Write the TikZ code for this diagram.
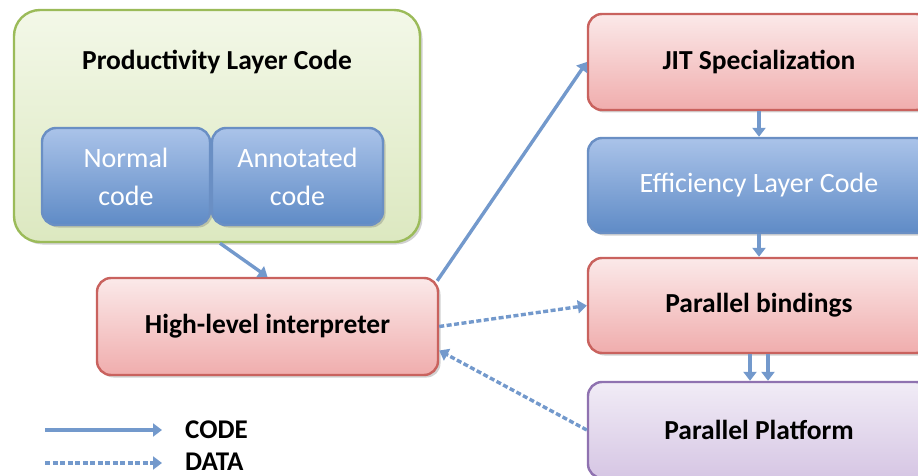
\documentclass[tikz,border=0pt]{standalone}
\usepackage{fontspec}
\setmainfont{Carlito}
\usetikzlibrary{shadows,arrows.meta}

\definecolor{greenline}{HTML}{9BBB59}
\definecolor{greentop}{HTML}{F3F8E8}
\definecolor{greenbot}{HTML}{DCE8C0}
\definecolor{blueline}{HTML}{6A8FC4}
\definecolor{bluetop}{HTML}{AAC3E9}
\definecolor{bluebot}{HTML}{5F8BC6}
\definecolor{redline}{HTML}{C9625E}
\definecolor{redtop}{HTML}{FBE9E9}
\definecolor{redbot}{HTML}{F0ADAD}
\definecolor{purpleline}{HTML}{8F72B0}
\definecolor{purpletop}{HTML}{F1ECF6}
\definecolor{purplebot}{HTML}{D6C6E4}
\definecolor{arrowc}{HTML}{7399CC}

\tikzset{
  boxbase/.style={rounded corners=14pt, line width=2.4pt, inner sep=0pt,
    drop shadow={shadow xshift=2.5pt, shadow yshift=-2.5pt, opacity=0.3, fill=black!60},
    font=\fontsize{28}{38}\selectfont, align=center},
  greenbox/.style={boxbase, rounded corners=26pt, draw=greenline, top color=greentop, bottom color=greenbot},
  bluebox/.style={boxbase, draw=blueline, top color=bluetop, bottom color=bluebot, text=white},
  redbox/.style={boxbase, draw=redline, top color=redtop, bottom color=redbot, font=\fontsize{27.5}{36}\selectfont\bfseries},
  purplebox/.style={boxbase, draw=purpleline, top color=purpletop, bottom color=purplebot, font=\fontsize{27.5}{36}\selectfont\bfseries},
  codearrow/.style={draw=arrowc, line width=3.4pt, -{Triangle[length=9pt,width=13pt]}},
  dataarrow/.style={codearrow, dash pattern=on 5pt off 2.5pt},
  legendtext/.style={font=\fontsize{27}{30}\selectfont\bfseries, anchor=west, inner sep=0pt},
}

\begin{document}
\begin{tikzpicture}[x=1pt, y=-1pt]
\useasboundingbox (0,0) rectangle (918,476);
\begin{scope}
\clip (0,0) rectangle (918,476);

% productivity layer with its two kinds of code
\node[greenbox, minimum width=406pt, minimum height=232pt] (prod) at (217,126) {};
\node[font=\fontsize{27.5}{30}\selectfont\bfseries, inner sep=0pt] (prodtitle) at (217,62) {Productivity Layer Code};
\node[bluebox, minimum width=168pt, minimum height=97pt] (normal) at (126,176.5) {Normal\\code};
\node[bluebox, minimum width=171pt, minimum height=97pt] (annot) at (297.5,176.5) {Annotated\\code};

% interpreter
\node[redbox, minimum width=341pt, minimum height=97pt] (interp) at (267.5,326.5) {High-level interpreter};

% efficiency side
\node[redbox, minimum width=342pt, minimum height=96pt] (jit) at (759,62) {JIT Specialization};
\node[bluebox, minimum width=342pt, minimum height=95pt] (eff) at (759,185.5) {Efficiency Layer Code};
\node[redbox, minimum width=342pt, minimum height=95pt] (bind) at (759,305.5) {Parallel bindings};
\node[purplebox, minimum width=342pt, minimum height=96pt] (plat) at (759,430) {Parallel Platform};

% connectors
\draw[codearrow] ([xshift=3pt]prod.south) -- ([xshift=0pt]interp.north);
\draw[codearrow] ([xshift=-2pt,yshift=-4pt]interp.north east) -- ([yshift=0pt]jit.west);
\draw[dataarrow] (interp.east) -- (bind.west);
\draw[dataarrow] (plat.west) -- ([yshift=-24pt]interp.east);
\draw[codearrow] (jit.south) -- (eff.north);
\draw[codearrow] (eff.south) -- (bind.north);
\draw[codearrow] ([xshift=-9pt]bind.south) -- ([xshift=-9pt]plat.north);
\draw[codearrow] ([xshift=9pt]bind.south) -- ([xshift=9pt]plat.north);

% legend
\coordinate (c1) at (45,430);
\coordinate (c2) at (162,430);
\coordinate (d1) at (45,463);
\coordinate (d2) at (162,463);
\draw[codearrow] (c1) -- (c2);
\draw[dataarrow] (d1) -- (d2);
\node[legendtext] (codelbl) at (185,430) {CODE};
\node[legendtext] (datalbl) at (185,462) {DATA};
\end{scope}
\end{tikzpicture}
\end{document}
